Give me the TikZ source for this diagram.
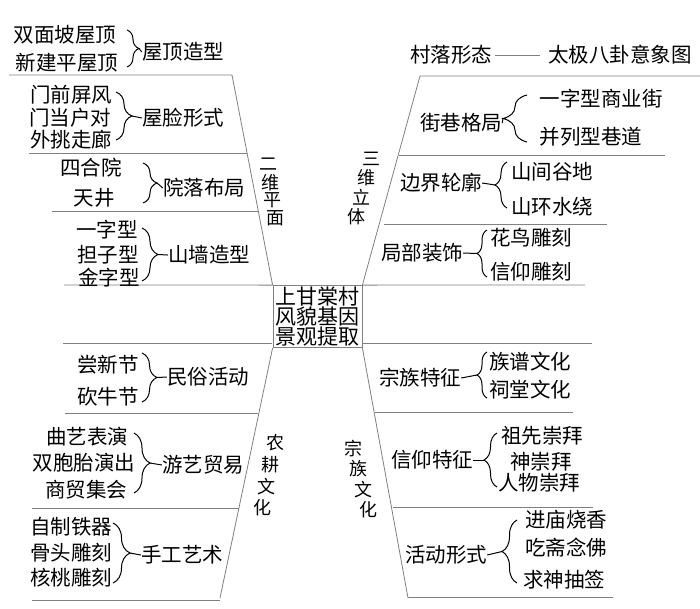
\documentclass[tikz,border=0pt]{standalone}
\usepackage{fontspec}
\newfontfamily\cjk{Noto Sans CJK SC}
\usetikzlibrary{decorations.pathreplacing}
\definecolor{skelgray}{gray}{0.5}
\begin{document}
\begin{tikzpicture}[x=1pt,y=-1pt,
  skel/.style={draw=skelgray,line width=0.8pt},
  txt/.style={font=\cjk\fontsize{20.5}{22}\selectfont,inner sep=0pt},
  vtxt/.style={font=\cjk\fontsize{18}{18}\selectfont,inner sep=0pt},
  brc/.style={decorate,decoration={brace,amplitude=#1},line width=1pt},
  tie/.style={line width=1pt}]
\useasboundingbox (0,0) rectangle (700,608);
\fill[white] (0,0) rectangle (700,608);

% centre
\node[draw=skelgray,line width=0.8pt,minimum width=89pt,minimum height=62pt,inner sep=0pt,
  font=\cjk\fontsize{21}{20}\selectfont,align=center] (core) at (317.5,316.5) {上甘棠村\\风貌基因\\景观提取};

% ---------- skeleton: top left ----------
\coordinate (tl0) at (232,75);
\draw[skel] (9,75) -- (tl0) -- (core.north west);
\draw[skel] (29,153) -- (247,153);
\draw[skel] (52,211) -- (258.6,211);
\draw[skel] (64,285) -- (core.north west);
% ---------- skeleton: top right ----------
\coordinate (tr0) at (420,76);
\draw[skel] (700,76) -- (tr0) -- (core.north east);
\draw[skel] (398.5,155) -- (665,155);
\draw[skel] (384,224) -- (607,224);
\draw[skel] (core.north east) -- (585,285);
% ---------- skeleton: bottom left ----------
\coordinate (bl0) at (220,598);
\draw[skel] (63,343) -- (272,343);
\draw[skel] (core.south west) -- (bl0);
\draw[skel] (65,413) -- (257.5,413);
\draw[skel] (32,508) -- (238.5,508);
\draw[skel] (32,600) -- (220,600);
% ---------- skeleton: bottom right ----------
\coordinate (br0) at (408,598);
\draw[skel] (363,343) -- (592,343);
\draw[skel] (core.south east) -- (br0);
\draw[skel] (375,412) -- (573,412);
\draw[skel] (393,507) -- (593,507);
\draw[skel] (408,597) -- (613,597);

% ---------- axis labels (characters along slanted columns) ----------
\node[vtxt] (ax1a) at (268,164) {二};
\node[vtxt] (ax1b) at (270.3,182.2) {维};
\node[vtxt] (ax1c) at (272.6,200.4) {平};
\node[vtxt] (ax1d) at (275,218.5) {面};

\node[vtxt] (ax2a) at (371.7,158.5) {三};
\node[vtxt] (ax2b) at (366.7,178) {维};
\node[vtxt] (ax2c) at (361.7,197.5) {立};
\node[vtxt] (ax2d) at (356.7,217) {体};

\node[vtxt] (ax3a) at (275,443) {农};
\node[vtxt] (ax3b) at (270.7,464.7) {耕};
\node[vtxt] (ax3c) at (266.3,486.3) {文};
\node[vtxt] (ax3d) at (262,508) {化};

\node[vtxt] (ax4a) at (353.3,448.5) {宗};
\node[vtxt] (ax4b) at (358.3,469) {族};
\node[vtxt] (ax4c) at (363.3,489.5) {文};
\node[vtxt] (ax4d) at (368.3,510) {化};

% ---------- title ----------
\node[txt] (t1) at (451,55) {村落形态};
\node[txt] (t2) at (620,55) {太极八卦意象图};
\draw[skel] ([xshift=3pt]t1.east) -- ([xshift=-8pt]t2.west);

% ---------- top left groups ----------
\node[txt] (a1) at (65,35) {双面坡屋顶};
\node[txt] (a2) at (67,63) {新建平屋顶};
\node[txt] (A) at (183,52) {屋顶造型};
\draw[brc=12pt] (127,30) -- (127,67);
\coordinate (Ab) at (139,48.5);
\draw[tie] (Ab) -- (A.west);

\node[txt] (b1) at (71,95) {门前屏风};
\node[txt] (b2) at (70,118) {门当户对};
\node[txt] (b3) at (71,140) {外挑走廊};
\node[txt] (B) at (183,118) {屋脸形式};
\draw[brc=16pt] (116,92) -- (116,140);
\coordinate (Bb) at (132,116);
\draw[tie] (Bb) -- (B.west);

\node[txt] (c1) at (91,168) {四合院};
\node[txt] (c2) at (94,198) {天井};
\node[txt] (C) at (204,188) {院落布局};
\draw[brc=14pt] (143,163) -- (143,203);
\coordinate (Cb) at (157,183);
\draw[tie] (Cb) -- (C.west);

\node[txt] (d1) at (107,230) {一字型};
\node[txt] (d2) at (108,255) {担子型};
\node[txt] (d3) at (109,278) {金字型};
\node[txt] (D) at (209,255) {山墙造型};
\draw[brc=16pt] (142,228) -- (142,281);
\coordinate (Db) at (158,254.5);
\draw[tie] (Db) -- (D.west);

% ---------- top right groups ----------
\node[txt] (E) at (461,123) {街巷格局};
\node[txt] (e1) at (601,99) {一字型商业街};
\node[txt] (e2) at (591,137) {并列型巷道};
\draw[brc=24pt] (527,142) -- (527,95);
\coordinate (Eb) at (503,118.5);
\draw[tie] (Eb) -- (E.east);

\node[txt] (F) at (441,183) {边界轮廓};
\node[txt] (f1) at (552,172) {山间谷地};
\node[txt] (f2) at (552,207) {山环水绕};
\draw[brc=12pt] (507,208) -- (507,162);
\coordinate (Fb) at (495,185);
\draw[tie] (Fb) -- (F.east);

\node[txt] (G) at (422,253) {局部装饰};
\node[txt] (g1) at (531,238) {花鸟雕刻};
\node[txt] (g2) at (531,272) {信仰雕刻};
\draw[brc=10pt] (487,277) -- (487,230);
\coordinate (Gb) at (477,253.5);
\draw[tie] (Gb) -- (G.east);

% ---------- bottom left groups ----------
\node[txt] (h1) at (108,365) {尝新节};
\node[txt] (h2) at (108,397) {砍牛节};
\node[txt] (H) at (208,377) {民俗活动};
\draw[brc=15pt] (142,353) -- (142,402);
\coordinate (Hb) at (157,377.5);
\draw[tie] (Hb) -- (H.west);

\node[txt] (i1) at (87,437) {曲艺表演};
\node[txt] (i2) at (84,463) {双胞胎演出};
\node[txt] (i3) at (86,490) {商贸集会};
\node[txt] (I) at (203,465) {游艺贸易};
\draw[brc=16pt] (134,433) -- (134,493);
\coordinate (Ib) at (150,463);
\draw[tie] (Ib) -- (I.west);

\node[txt] (j1) at (71,527) {自制铁器};
\node[txt] (j2) at (71,553) {骨头雕刻};
\node[txt] (j3) at (71,578) {核桃雕刻};
\node[txt] (J) at (182,555) {手工艺术};
\draw[brc=17pt] (113,523) -- (113,583);
\coordinate (Jb) at (130,553);
\draw[tie] (Jb) -- (J.west);

% ---------- bottom right groups ----------
\node[txt] (K) at (420,378) {宗族特征};
\node[txt] (k1) at (530,362) {族谱文化};
\node[txt] (k2) at (530,390) {祠堂文化};
\draw[brc=10pt] (487,398) -- (487,352);
\coordinate (Kb) at (477,375);
\draw[tie] (Kb) -- (K.east);

\node[txt] (L) at (432,460) {信仰特征};
\node[txt] (l1) at (542,436) {祖先崇拜};
\node[txt] (l2) at (541,462) {神崇拜};
\node[txt] (l3) at (539,483) {人物崇拜};
\draw[brc=13pt] (497,487) -- (497,433);
\coordinate (Lb) at (484,460);
\draw[tie] (Lb) -- (L.east);

\node[txt] (M) at (446,555) {活动形式};
\node[txt] (m1) at (566,520) {进庙烧香};
\node[txt] (m2) at (566,548) {吃斋念佛};
\node[txt] (m3) at (564,580) {求神抽签};
\draw[brc=15pt] (517,583) -- (517,520);
\coordinate (Mb) at (502,551.5);
\draw[tie] (Mb) -- (M.east);
\end{tikzpicture}
\end{document}
